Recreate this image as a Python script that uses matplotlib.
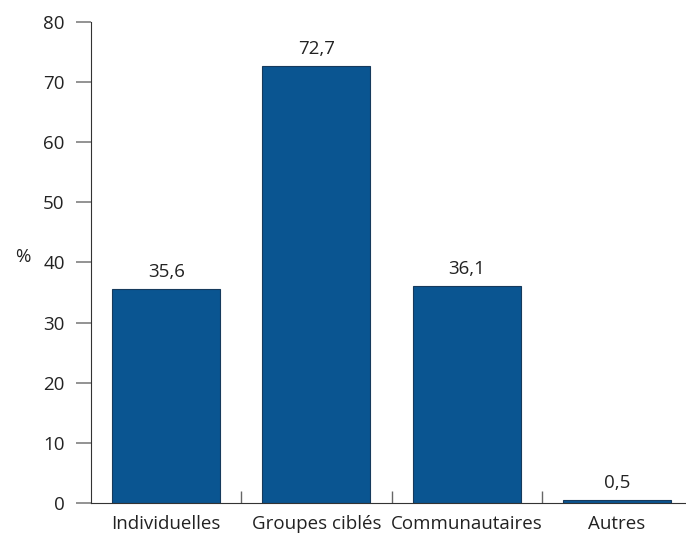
import matplotlib
matplotlib.use("Agg")
from matplotlib import pyplot as plt

# share of interventions by type (%)
categories = ["Individuelles", "Groupes ciblés", "Communautaires", "Autres"]
values = [35.6, 72.7, 36.1, 0.5]
labels = ["35,6", "72,7", "36,1", "0,5"]

plt.rcParams['font.family'] = ['Open Sans', 'DejaVu Sans']
plt.rcParams['font.size'] = 13.5

fig = plt.figure(figsize=(6.86, 5.36), dpi=100)
ax = fig.add_axes([0.1327, 0.0616, 0.8673, 0.8974])

x = range(len(categories))
bars = ax.bar(x, values, width=0.72, color='#0a5591', edgecolor='#163a5c', linewidth=0.8)

for b, txt in zip(bars, labels):
    ax.annotate(txt, (b.get_x() + b.get_width() / 2, b.get_height()),
                xytext=(0, 6), textcoords='offset points',
                ha='center', va='bottom', color='#222222')

ax.set_xlim(-0.5, 3.46)
ax.set_ylim(0, 80)
ax.set_yticks(range(0, 81, 10))
ax.set_xticks(list(x))
ax.set_xticklabels(categories)
ax.tick_params(axis='x', length=0, pad=9, colors='#222222')
ax.tick_params(axis='y', length=11, width=1.2, color='#808080', pad=8, labelcolor='#222222')

# separators between categories, pointing up from the baseline
ax.set_xticks([0.5, 1.5, 2.5], minor=True)
ax.tick_params(axis='x', which='minor', direction='in', length=9, color='#666666', width=1)

for s in ['top', 'right']:
    ax.spines[s].set_visible(False)
ax.spines['left'].set_color('#333333')
ax.spines['bottom'].set_color('#333333')

fig.text(15 / 686, 1 - 257 / 536, '%', ha='left', va='center', color='#222222')

fig.savefig('out.png', dpi=100)
